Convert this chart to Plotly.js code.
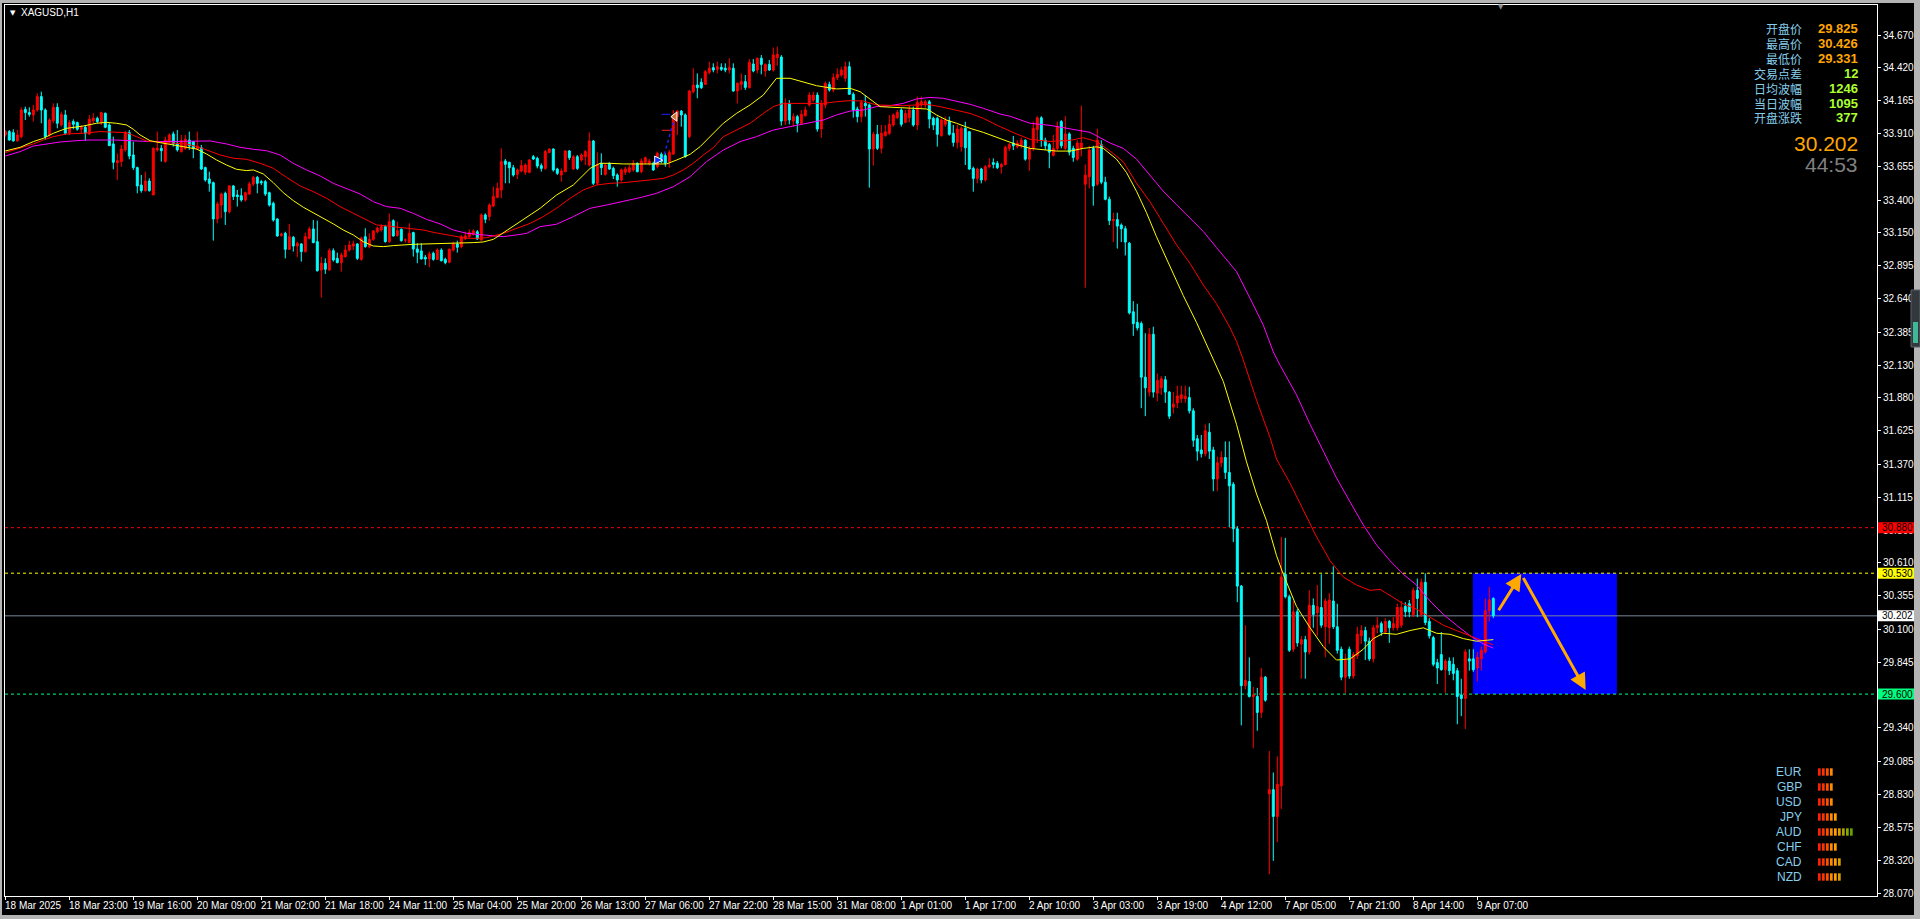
<!DOCTYPE html>
<html><head><meta charset="utf-8">
<script src="https://cdn.plot.ly/plotly-3.0.1.min.js"></script>
<style>html,body{margin:0;padding:0;background:#000;overflow:hidden}#chart{width:1920px;height:919px}</style>
</head><body><div id="chart"></div>
<script>
// ---------------- DATA ----------------
const symbolTitle = "XAGUSD,H1";

const open = [
33.901,33.927,33.919,33.855,33.888,34.098,34.073,34.055,34.093,34.196,
34.093,33.901,34.011,34.114,33.978,34.055,33.919,34.004,33.996,33.945,
33.960,33.909,34.011,34.029,33.996,34.068,33.978,33.832,33.688,33.696,
33.786,33.919,33.747,33.650,33.516,33.473,33.547,33.439,33.786,33.798,
33.696,33.850,33.909,33.837,33.773,33.798,33.862,33.850,33.791,33.803,
33.650,33.562,33.534,33.255,33.362,33.452,33.311,33.509,33.439,33.434,
33.401,33.447,33.524,33.575,33.542,33.542,33.457,33.375,33.255,33.127,
33.145,33.021,33.114,33.047,33.063,33.004,33.106,33.178,33.080,32.862,
32.914,32.862,33.011,32.952,32.919,32.965,33.016,33.047,33.063,32.944,
33.119,33.042,33.098,33.157,33.170,33.196,33.080,33.242,33.127,33.175,
33.093,33.073,33.150,33.024,33.009,32.960,32.947,32.991,32.944,33.016,
32.944,32.921,33.016,33.063,33.042,33.106,33.119,33.137,33.157,33.093,
33.286,33.273,33.355,33.421,33.478,33.701,33.690,33.649,33.598,33.624,
33.614,33.614,33.734,33.721,33.665,33.644,33.767,33.793,33.639,33.593,
33.619,33.778,33.639,33.734,33.708,33.734,33.670,33.855,33.529,33.683,
33.598,33.683,33.644,33.593,33.555,33.614,33.619,33.632,33.683,33.619,
33.690,33.683,33.683,33.657,33.752,33.742,33.696,33.755,34.042,34.085,
34.055,33.888,34.234,34.285,34.306,34.290,34.383,34.419,34.406,34.421,
34.414,34.401,34.414,34.239,34.290,34.311,34.265,34.447,34.401,34.491,
34.393,34.444,34.401,34.496,34.501,34.008,34.144,34.008,34.042,33.991,
34.050,34.132,34.170,34.208,33.947,34.132,34.290,34.247,34.342,34.362,
34.337,34.426,34.214,34.101,34.042,34.144,34.132,33.793,33.906,33.798,
33.896,33.914,33.978,34.034,34.093,33.998,34.034,34.093,33.978,34.132,
34.132,34.157,34.029,34.029,33.896,33.983,34.008,33.914,33.844,33.811,
33.952,33.926,33.644,33.567,33.639,33.555,33.657,33.688,33.683,33.654,
33.674,33.798,33.839,33.810,33.818,33.860,33.715,33.798,33.942,34.033,
33.860,33.827,33.744,33.798,34.004,33.798,33.909,33.798,33.715,33.798,
33.522,33.579,33.798,33.522,33.827,33.538,33.406,33.242,33.250,33.208,
33.180,33.068,32.541,32.459,32.450,32.038,31.923,32.368,31.915,31.956,
32.018,31.923,31.807,31.840,31.873,31.873,31.881,31.779,31.564,31.478,
31.449,31.614,31.478,31.255,31.379,31.420,31.305,31.214,30.872,30.431,
29.665,29.697,29.582,29.582,29.459,29.730,28.832,28.865,28.659,28.894,
30.522,30.349,29.945,30.233,29.986,30.019,29.924,30.283,30.225,30.266,
30.118,30.110,30.316,30.118,29.945,29.730,29.945,29.739,29.895,30.048,
30.089,30.007,29.871,30.110,30.142,30.077,30.159,30.110,30.110,30.130,
30.274,30.295,30.213,30.398,30.213,30.460,30.159,30.035,29.842,29.904,
29.788,29.854,29.829,29.780,29.594,29.566,29.871,29.871,29.801,29.871,
29.924,30.241,30.336];

const high = [
33.939,33.939,33.945,33.939,34.114,34.119,34.114,34.132,34.222,34.234,
34.106,34.029,34.145,34.145,34.080,34.093,34.016,34.021,34.004,33.978,
33.978,34.055,34.068,34.042,34.080,34.073,33.991,33.888,33.760,33.824,
33.932,33.939,33.850,33.657,33.593,33.619,33.568,33.806,33.927,33.824,
33.888,33.914,33.927,33.939,33.901,33.901,33.927,33.855,33.927,33.824,
33.657,33.619,33.542,33.388,33.457,33.465,33.516,33.516,33.478,33.491,
33.465,33.542,33.586,33.586,33.555,33.555,33.465,33.388,33.260,33.150,
33.157,33.217,33.124,33.080,33.068,33.150,33.196,33.247,33.242,32.965,
32.952,33.029,33.029,32.996,32.996,33.055,33.088,33.088,33.068,33.119,
33.183,33.145,33.170,33.196,33.214,33.209,33.298,33.252,33.234,33.183,
33.106,33.222,33.157,33.068,33.068,32.978,33.004,33.004,33.029,33.029,
32.957,33.029,33.080,33.088,33.132,33.157,33.175,33.175,33.170,33.298,
33.298,33.375,33.504,33.534,33.798,33.716,33.696,33.670,33.644,33.708,
33.683,33.716,33.747,33.734,33.683,33.785,33.798,33.798,33.649,33.644,
33.785,33.785,33.747,33.747,33.760,33.785,33.921,33.862,33.767,33.760,
33.683,33.690,33.657,33.606,33.644,33.657,33.670,33.708,33.690,33.721,
33.734,33.716,33.696,33.773,33.767,33.760,33.785,34.093,34.093,34.093,
34.067,34.247,34.414,34.375,34.337,34.401,34.465,34.452,34.465,34.452,
34.452,34.491,34.452,34.306,34.375,34.362,34.485,34.485,34.496,34.516,
34.452,34.478,34.573,34.580,34.516,34.183,34.170,34.067,34.055,34.093,
34.119,34.229,34.234,34.229,34.170,34.311,34.311,34.375,34.414,34.426,
34.465,34.465,34.229,34.119,34.170,34.208,34.144,33.926,33.978,33.978,
33.978,34.055,34.067,34.093,34.106,34.093,34.132,34.119,34.196,34.196,
34.170,34.170,34.042,34.042,34.029,34.042,34.042,33.978,33.978,33.965,
34.003,33.932,33.657,33.649,33.649,33.670,33.721,33.721,33.701,33.687,
33.818,33.839,33.893,33.860,33.880,33.868,33.818,34.004,34.045,34.045,
33.880,33.839,33.901,34.004,34.016,34.045,33.921,33.818,33.860,34.127,
33.674,33.818,33.818,33.950,33.860,33.579,33.427,33.303,33.303,33.221,
33.200,33.077,32.623,32.603,32.467,32.376,32.417,32.426,32.067,32.046,
32.046,31.931,31.923,31.972,31.972,31.972,31.964,31.799,31.593,31.593,
31.675,31.684,31.502,31.428,31.469,31.544,31.544,31.231,30.893,30.439,
30.130,29.883,29.656,29.648,29.801,29.739,29.162,28.997,29.121,30.810,
30.802,30.365,30.316,30.254,30.048,30.048,30.398,30.336,30.439,30.522,
30.336,30.377,30.583,30.295,29.965,29.912,29.965,29.924,30.118,30.130,
30.118,30.035,30.130,30.192,30.159,30.184,30.171,30.192,30.295,30.316,
30.307,30.324,30.419,30.489,30.489,30.530,30.184,30.048,29.871,30.077,
29.871,29.883,29.883,29.801,29.718,29.945,29.945,29.945,29.924,29.965,
30.336,30.426,30.345];

const low = [
33.888,33.857,33.850,33.850,33.875,34.016,34.042,34.004,34.080,33.991,
33.862,33.888,33.991,33.952,33.965,33.901,33.901,33.945,33.934,33.914,
33.855,33.901,33.991,33.991,33.978,33.952,33.816,33.637,33.555,33.657,
33.773,33.714,33.632,33.452,33.457,33.465,33.465,33.439,33.773,33.696,
33.688,33.832,33.811,33.773,33.765,33.786,33.786,33.722,33.786,33.632,
33.542,33.465,33.088,33.222,33.260,33.209,33.298,33.401,33.350,33.388,
33.388,33.439,33.509,33.452,33.516,33.432,33.350,33.234,33.119,33.119,
32.952,33.016,33.004,32.960,32.927,32.996,33.098,33.068,32.850,32.650,
32.832,32.857,32.927,32.914,32.850,32.957,33.004,33.016,32.939,32.934,
33.034,33.029,33.088,33.145,33.157,33.073,33.073,33.119,33.119,33.080,
33.073,33.068,32.965,32.914,32.944,32.901,32.883,32.934,32.939,32.927,
32.906,32.914,33.004,32.996,33.029,33.093,33.111,33.127,33.093,33.088,
33.222,33.242,33.345,33.414,33.414,33.529,33.529,33.580,33.562,33.614,
33.593,33.606,33.708,33.644,33.619,33.632,33.760,33.619,33.593,33.542,
33.614,33.708,33.632,33.632,33.696,33.670,33.657,33.516,33.516,33.593,
33.588,33.632,33.562,33.503,33.542,33.593,33.606,33.619,33.614,33.606,
33.675,33.665,33.624,33.644,33.683,33.657,33.649,33.747,33.901,33.965,
33.726,33.875,34.221,34.183,34.255,34.285,34.367,34.383,34.375,34.393,
34.383,34.375,34.234,34.144,34.247,34.247,34.260,34.383,34.375,34.367,
34.349,34.393,34.388,34.434,33.973,33.978,33.983,33.965,33.921,33.983,
34.042,34.119,34.157,33.926,33.880,34.106,34.234,34.229,34.324,34.349,
34.311,34.208,34.034,33.998,33.998,34.042,33.496,33.665,33.785,33.760,
33.888,33.901,33.965,34.024,33.965,33.991,33.998,33.965,33.939,34.106,
34.111,33.952,33.939,33.811,33.888,33.965,33.896,33.811,33.798,33.773,
33.670,33.632,33.465,33.529,33.529,33.542,33.644,33.644,33.639,33.604,
33.666,33.777,33.785,33.798,33.798,33.703,33.625,33.777,33.839,33.810,
33.785,33.645,33.736,33.777,33.798,33.785,33.744,33.695,33.703,33.736,
32.726,33.489,33.357,33.509,33.522,33.398,33.208,33.077,33.027,33.077,
32.974,32.520,32.356,32.397,31.799,31.738,31.890,31.881,31.853,31.902,
31.840,31.717,31.758,31.799,31.840,31.840,31.758,31.502,31.395,31.420,
31.428,31.408,31.161,31.161,31.346,31.255,30.884,30.769,30.307,29.360,
29.636,29.574,29.183,29.318,29.417,29.541,28.214,28.317,28.461,28.717,
30.336,29.924,29.924,29.965,29.718,29.718,29.904,30.110,30.048,30.110,
29.883,29.986,30.101,29.912,29.706,29.607,29.718,29.718,29.871,29.986,
29.862,29.854,29.842,30.068,30.048,30.060,29.994,30.089,30.089,30.110,
30.192,30.192,30.192,30.192,30.192,30.130,30.027,29.813,29.677,29.780,
29.607,29.747,29.706,29.368,29.430,29.331,29.780,29.772,29.697,29.780,
29.912,30.159,30.184];

const close = [
33.927,33.862,33.855,33.901,34.093,34.073,34.060,34.093,34.196,34.093,
33.888,34.016,34.114,33.991,34.060,33.914,33.996,33.983,33.945,33.960,
33.914,34.021,34.029,34.004,34.073,33.960,33.819,33.691,33.704,33.793,
33.919,33.739,33.650,33.509,33.473,33.547,33.473,33.798,33.798,33.780,
33.862,33.901,33.832,33.786,33.857,33.868,33.816,33.798,33.816,33.639,
33.555,33.529,33.255,33.370,33.447,33.311,33.509,33.427,33.427,33.401,
33.457,33.524,33.575,33.529,33.534,33.447,33.362,33.247,33.124,33.140,
33.021,33.119,33.047,33.068,33.004,33.119,33.178,33.073,32.857,32.914,
32.868,33.011,32.939,32.919,32.978,33.016,33.055,33.063,32.952,33.106,
33.042,33.098,33.163,33.183,33.196,33.080,33.234,33.124,33.165,33.088,
33.093,33.145,33.024,32.998,32.947,32.947,32.986,32.944,33.016,32.934,
32.919,33.021,33.063,33.037,33.119,33.124,33.150,33.163,33.101,33.286,
33.252,33.362,33.427,33.491,33.696,33.675,33.649,33.593,33.632,33.665,
33.670,33.708,33.716,33.662,33.644,33.773,33.793,33.632,33.606,33.624,
33.778,33.726,33.734,33.644,33.747,33.773,33.855,33.529,33.675,33.649,
33.670,33.639,33.588,33.555,33.632,33.639,33.649,33.683,33.619,33.701,
33.726,33.701,33.632,33.760,33.696,33.683,33.767,34.034,34.085,34.055,
33.734,34.239,34.285,34.265,34.265,34.388,34.414,34.401,34.426,34.406,
34.401,34.419,34.239,34.298,34.311,34.267,34.460,34.393,34.491,34.444,
34.444,34.401,34.516,34.521,34.008,34.144,34.016,34.042,33.991,34.060,
34.093,34.208,34.208,33.947,34.144,34.298,34.247,34.342,34.367,34.401,
34.426,34.214,34.093,34.042,34.152,34.126,33.793,33.906,33.798,33.914,
33.926,33.983,34.055,34.075,33.983,34.067,34.093,33.978,34.152,34.157,
34.157,34.024,33.978,33.906,34.016,34.016,33.906,33.844,33.947,33.952,
33.803,33.639,33.567,33.639,33.555,33.657,33.670,33.675,33.649,33.674,
33.806,33.827,33.818,33.839,33.860,33.715,33.798,33.950,34.033,33.860,
33.818,33.769,33.798,33.963,33.818,33.909,33.769,33.728,33.839,33.839,
33.592,33.785,33.509,33.860,33.538,33.406,33.242,33.250,33.200,33.180,
33.077,32.533,32.450,32.417,32.038,31.956,32.368,31.923,32.013,32.026,
31.923,31.738,31.832,31.894,31.902,31.890,31.779,31.552,31.469,31.449,
31.626,31.469,31.255,31.379,31.420,31.305,31.202,30.872,30.431,29.665,
29.706,29.582,29.594,29.459,29.730,29.553,28.865,28.659,28.906,30.501,
30.349,29.937,30.233,29.994,30.019,29.924,30.283,30.213,30.274,30.130,
30.316,30.324,30.118,29.937,29.730,29.862,29.739,29.904,30.060,30.089,
30.007,29.871,30.110,30.130,30.077,30.159,30.110,30.142,30.266,30.266,
30.233,30.233,30.398,30.336,30.460,30.151,30.048,29.829,29.801,29.788,
29.854,29.780,29.759,29.582,29.566,29.924,29.854,29.788,29.883,29.937,
30.241,30.324,30.202];

// moving averages: [bar index, price]
const maFastIdx = [0,3.7,7,9.5,12,15.3,19.5,22.8,25.3,27.8,30.3,32,33.7,36.2,38.7,42,45.3,47.8,50.3,52.8,55.3,57.8,60.3,62,64.5,67,69.5,72,74.5,77,79.5,82,84.5,87,89.5,92,94.5,97,102,107,112,117,119.5,122,123.7,126.2,129.5,133.7,137.8,142,146.2,148.7,151.2,154.5,158.7,162.8,165.3,167.8,171.2,173.7,176.2,179.5,182.8,186.2,189.5,192.8,196.2,199.5,202.8,207.8,211.2,213.7,216.2,218.7,223.7,228.7,230.4,232.8,235.3,237.8,241.2,244.5,248.7,252.8,256.2,262.8,266.2,269.5,272.8,274.5,277.8,280.3,282.8,285.3,287.8,291.2,294.5,297.8,301.2,304.5,307.8,310.3,312.8,315.3,317.8,319.5,322.8,326.2,329.5,332.8,336.2,339.5,342,344.5,347.8,351.2,354.5,357.8,361.2,364.5,367.8,372];
const maFastVal = [33.778,33.806,33.850,33.875,33.914,33.952,33.970,33.991,33.998,33.991,33.978,33.945,33.901,33.857,33.842,33.824,33.806,33.793,33.755,33.709,33.670,33.637,33.627,33.632,33.601,33.534,33.457,33.396,33.345,33.304,33.260,33.217,33.170,33.132,33.080,33.047,33.042,33.050,33.060,33.063,33.065,33.073,33.078,33.098,33.132,33.183,33.247,33.337,33.439,33.516,33.644,33.683,33.683,33.678,33.678,33.675,33.678,33.708,33.752,33.811,33.888,33.991,34.067,34.132,34.208,34.337,34.337,34.311,34.280,34.255,34.260,34.234,34.178,34.119,34.111,34.106,34.101,34.055,34.016,33.991,33.952,33.921,33.875,33.827,33.798,33.777,33.777,33.798,33.810,33.798,33.715,33.612,33.468,33.303,33.118,32.891,32.665,32.459,32.232,32.005,31.675,31.387,31.140,30.934,30.666,30.522,30.274,30.110,29.965,29.862,29.871,29.945,30.027,30.068,30.060,30.089,30.110,30.068,30.060,30.027,30.007,30.019];

const maMidIdx = [0,3.7,7,9.5,12,15.3,19.5,23.7,27.8,30.3,32.8,35.3,38.7,42,45.3,48.7,51.2,53.7,57,60.3,63.7,67,70.3,73.7,77,80.3,83.7,87,90.3,92.8,95.3,98.7,102,104.5,107,110.3,112.8,115.3,117.8,120.3,124.5,127.8,131.2,134.5,137.8,141.2,144.5,147.8,151.2,154.5,157.8,161.2,164.5,167,169.5,172,174.5,177,179.5,182.8,186.2,189.5,192,194.5,201.2,204.5,207.8,211.2,214.5,217.8,224.5,230.4,233.7,237.8,241.2,244.5,248,252.8,256.2,261.2,266.2,269.5,272.8,276.2,279.5,282.8,286.2,289.5,292.8,296.2,299.5,302.8,306.2,307.8,309.5,312.8,316.2,317.8,321.2,324.5,327.8,331.2,334.5,337.8,341.2,343.7,346.2,349.5,352.8,356.2,359.5,362.8,366.2,369.5,372];
const maMidVal = [33.765,33.798,33.832,33.862,33.888,33.909,33.914,33.927,33.921,33.919,33.888,33.855,33.845,33.837,33.832,33.804,33.773,33.747,33.722,33.714,33.683,33.645,33.575,33.509,33.465,33.414,33.350,33.298,33.247,33.209,33.201,33.191,33.180,33.170,33.152,33.132,33.119,33.106,33.106,33.111,33.144,33.183,33.221,33.273,33.337,33.414,33.478,33.516,33.529,33.534,33.542,33.555,33.567,33.593,33.632,33.683,33.747,33.803,33.888,33.939,33.991,34.067,34.119,34.144,34.144,34.144,34.157,34.165,34.162,34.132,34.126,34.137,34.119,34.093,34.067,34.029,33.975,33.909,33.868,33.851,33.860,33.880,33.851,33.777,33.695,33.530,33.386,33.221,33.056,32.912,32.747,32.603,32.417,32.314,32.170,31.861,31.573,31.408,31.222,31.016,30.810,30.625,30.501,30.439,30.398,30.406,30.357,30.295,30.254,30.192,30.130,30.089,30.048,30.007,29.978];

const maSlowIdx = [0,3.7,7,10.3,13.7,17,20.3,27.8,32,36.2,44.5,51.2,55.3,58.7,62,65.3,68.7,72,75.3,78.7,82,85.3,88.7,92,95.3,98.7,102,105.3,108.7,112,115.3,118.7,121.2,124.5,127.8,130.3,133.7,137.8,142,146.2,150.3,154.5,158.7,162.8,167,171.2,175.3,179.5,183.7,187.8,192,196.2,200.3,204.5,207.8,211.2,214.5,217.8,221.2,224.5,227.8,231.2,234.5,237.8,241.2,244.5,248.7,251.2,256.2,261.2,266.2,271.2,276.2,279.5,282.8,286.2,289.5,292.8,296.2,299.5,302.8,306.2,307.8,311.2,314.5,317,318.7,322.8,326.2,329.5,332.8,336.2,339.5,342.8,346.2,349.5,352.8,356.2,359.5,362.8,366.2,369.5,372];
const maSlowVal = [33.739,33.773,33.816,33.832,33.847,33.855,33.862,33.862,33.857,33.850,33.852,33.855,33.832,33.806,33.791,33.780,33.747,33.683,33.632,33.586,33.529,33.491,33.447,33.388,33.350,33.337,33.298,33.252,33.217,33.170,33.145,33.134,33.128,33.119,33.132,33.144,33.196,33.214,33.273,33.337,33.362,33.388,33.419,33.452,33.503,33.580,33.696,33.785,33.850,33.888,33.939,33.965,33.991,34.016,34.055,34.085,34.093,34.119,34.126,34.144,34.178,34.190,34.183,34.162,34.137,34.106,34.062,34.045,33.991,33.975,33.950,33.921,33.839,33.798,33.715,33.592,33.468,33.365,33.262,33.159,33.035,32.912,32.850,32.644,32.438,32.232,32.129,31.902,31.675,31.469,31.263,31.078,30.901,30.748,30.625,30.522,30.439,30.316,30.213,30.130,30.048,29.986,29.953];

// x axis labels (one every 16 bars)
const xTickIdx = [0,16,32,48,64,80,96,112,128,144,160,176,192,208,224,240,256,272,288,304,320,336,352,368];
const xTickLabels = ["18 Mar 2025","18 Mar 23:00","19 Mar 16:00","20 Mar 09:00","21 Mar 02:00","21 Mar 18:00","24 Mar 11:00","25 Mar 04:00","25 Mar 20:00","26 Mar 13:00","27 Mar 06:00","27 Mar 22:00","28 Mar 15:00","31 Mar 08:00","1 Apr 01:00","1 Apr 17:00","2 Apr 10:00","3 Apr 03:00","3 Apr 19:00","4 Apr 12:00","7 Apr 05:00","7 Apr 21:00","8 Apr 14:00","9 Apr 07:00"];
const yTickVals = [34.670,34.420,34.165,33.910,33.655,33.400,33.150,32.895,32.640,32.385,32.130,31.880,31.625,31.370,31.115,30.860,30.610,30.355,30.100,29.845,29.590,29.340,29.085,28.830,28.575,28.320,28.070];

// horizontal levels
const levelPrices = [30.880, 30.530, 29.600];
const levelColors = ["#FF0000", "#FFFF00", "#00FF7F"];
const bidPrice = 30.202;

// projection zone and arrows
const zoneX = [366.9, 402.9];
const zoneY = [29.600, 30.530];
const arrowTailX = [373.1, 379.3];
const arrowTailY = [30.234, 30.505];
const arrowHeadX = [379.0, 395.1];
const arrowHeadY = [30.524, 29.632];

// trade history marks
const tradeX = [164.35, 167.4];
const tradeY = [33.708, 34.042];
const tpLevel = 34.060, slLevel = 33.937;

// info panel
const infoLabels = ["开盘价","最高价","最低价","交易点差","日均波幅","当日波幅","开盘涨跌"];
const infoValues = ["29.825","30.426","29.331","12","1246","1095","377"];
const bidText = "30.202";
const timerText = "44:53";

// currency strength meter
const currencies = ["EUR","GBP","USD","JPY","AUD","CHF","CAD","NZD"];
const strength = [4,4,4,5,9,5,6,6];

// ---------------- LAYOUT HELPERS ----------------
const W = 1920, H = 919;
const M = {l: 5, r: 43, t: 5, b: 23};
const PW = W - M.l - M.r, PH = H - M.t - M.b;
const fx = px => (px - M.l) / PW;
const fy = py => (H - M.b - py) / PH;
const xRange = [-0.075, 467.925];
const yRange = [28.0469, 34.9008];
const paperY = p => (p - yRange[0]) / (yRange[1] - yRange[0]);
const pxPerPrice = PH / (yRange[1] - yRange[0]);

const barIdx = close.map((_, i) => i);

const traces = [
  {type: 'candlestick', x: barIdx, open: open, high: high, low: low, close: close,
   increasing: {line: {color: '#FF0000', width: 1}, fillcolor: '#FF0000'},
   decreasing: {line: {color: '#00FFFF', width: 1}, fillcolor: '#00FFFF'},
   whiskerwidth: 0, hoverinfo: 'skip', showlegend: false},
  {type: 'scatter', mode: 'lines', x: maSlowIdx, y: maSlowVal, line: {color: '#FF00FF', width: 1}, hoverinfo: 'skip', showlegend: false},
  {type: 'scatter', mode: 'lines', x: maMidIdx, y: maMidVal, line: {color: '#FF0000', width: 1}, hoverinfo: 'skip', showlegend: false},
  {type: 'scatter', mode: 'lines', x: maFastIdx, y: maFastVal, line: {color: '#FFFF00', width: 1}, hoverinfo: 'skip', showlegend: false},
  {type: 'scatter', mode: 'lines', x: tradeX, y: tradeY, line: {color: '#2020FF', width: 1.5, dash: 'dot'}, hoverinfo: 'skip', showlegend: false},
  {type: 'scatter', mode: 'lines', x: [tradeX[0]-0.25, tradeX[0]+1.85], y: [tpLevel, tpLevel], line: {color: '#2020FF', width: 1}, hoverinfo: 'skip', showlegend: false},
  {type: 'scatter', mode: 'lines', x: [tradeX[0]-0.25, tradeX[0]+1.85], y: [slLevel, slLevel], line: {color: '#FF2020', width: 1}, hoverinfo: 'skip', showlegend: false},
  {type: 'scatter', mode: 'markers', x: [tradeX[0]], y: [tradeY[0]], marker: {symbol: 'arrow-right', size: 8, color: '#1030FF', line: {color: '#FFFFFF', width: 1}}, hoverinfo: 'skip', showlegend: false},
  {type: 'scatter', mode: 'markers', x: [tradeX[1]], y: [tradeY[1]], marker: {symbol: 'triangle-left', size: 8, color: '#C87830', line: {color: '#FFFFFF', width: 1}}, hoverinfo: 'skip', showlegend: false}
];

const shapes = [];
shapes.push({type: 'rect', xref: 'x', yref: 'y', x0: zoneX[0], x1: zoneX[1], y0: zoneY[0], y1: zoneY[1],
  fillcolor: '#0000FF', line: {width: 0}, layer: 'below'});
levelPrices.forEach((p, k) => {
  shapes.push({type: 'line', xref: 'x', yref: 'y', x0: xRange[0], x1: xRange[1], y0: p, y1: p,
    line: {color: levelColors[k], width: 1, dash: '3px,3px'}, layer: 'below'});
});
shapes.push({type: 'line', xref: 'x', yref: 'y', x0: xRange[0], x1: xRange[1], y0: bidPrice, y1: bidPrice,
  line: {color: '#778899', width: 1}, layer: 'below'});

const tagPrices = [levelPrices[0], levelPrices[1], bidPrice, levelPrices[2]];
const tagColors = [levelColors[0], levelColors[1], '#FFFFFF', levelColors[2]];
const halfTag = 5.5 / pxPerPrice;
tagPrices.forEach((p, k) => {
  shapes.push({type: 'rect', xref: 'paper', yref: 'paper', x0: fx(1878), x1: fx(1915),
    y0: paperY(p - halfTag), y1: paperY(p + halfTag), fillcolor: tagColors[k], line: {width: 0}, layer: 'above'});
});

const barColors = ['#FF1E00','#FF3200','#FF5000','#FF8C00','#FFA000','#D7A000','#AAA500','#8CA500','#64A000'];
currencies.forEach((c, r) => {
  const cy = 772 + 15 * r;
  for (let k = 0; k < strength[r]; k++) {
    const x0 = 1818 + 4 * k;
    shapes.push({type: 'rect', xref: 'paper', yref: 'paper', x0: fx(x0), x1: fx(x0 + 2.7),
      y0: fy(cy + 3.7), y1: fy(cy - 3.7), fillcolor: barColors[k], line: {width: 0}, layer: 'above'});
  }
});

const frameColor = '#B4B4B4';
shapes.push({type: 'rect', xref: 'paper', yref: 'paper', x0: fx(0), x1: fx(2), y0: fy(919), y1: fy(0), fillcolor: frameColor, line: {width: 0}});
shapes.push({type: 'rect', xref: 'paper', yref: 'paper', x0: fx(0), x1: fx(1920), y0: fy(3), y1: fy(0), fillcolor: frameColor, line: {width: 0}});
shapes.push({type: 'rect', xref: 'paper', yref: 'paper', x0: fx(1914), x1: fx(1920), y0: fy(919), y1: fy(0), fillcolor: frameColor, line: {width: 0}});
shapes.push({type: 'rect', xref: 'paper', yref: 'paper', x0: fx(0), x1: fx(1920), y0: fy(919), y1: fy(915), fillcolor: frameColor, line: {width: 0}});
shapes.push({type: 'rect', xref: 'paper', yref: 'paper', x0: fx(1911), x1: fx(1920), y0: fy(347), y1: fy(290), fillcolor: '#33383D', line: {color: '#5A6068', width: 1}});
shapes.push({type: 'rect', xref: 'paper', yref: 'paper', x0: fx(1913), x1: fx(1918), y0: fy(343), y1: fy(322), fillcolor: '#3FB89A', line: {width: 0}});

const annotations = [];
// x axis labels, left-aligned on their tick like the terminal does
xTickIdx.forEach((xi, k) => {
  annotations.push({xref: 'x', yref: 'paper', x: xi, y: fy(905), xanchor: 'left', yanchor: 'middle', xshift: -1,
    text: xTickLabels[k], showarrow: false, font: {family: 'Liberation Sans', size: 10, color: '#FFFFFF'}, borderpad: 0});
});
const tagFont = {family: 'Liberation Sans', size: 10, color: '#000000'};
tagPrices.forEach((p, k) => {
  annotations.push({xref: 'paper', yref: 'paper', x: fx(1881), y: paperY(p), xanchor: 'left', yanchor: 'middle',
    text: p.toFixed(3), showarrow: false, font: tagFont, borderpad: 0});
});
annotations.push({xref: 'paper', yref: 'paper', x: fx(8), y: fy(13), xanchor: 'left', yanchor: 'middle',
  text: '▼', showarrow: false, font: {family: 'DejaVu Sans', size: 7, color: '#FFFFFF'}});
annotations.push({xref: 'paper', yref: 'paper', x: fx(19), y: fy(13), xanchor: 'left', yanchor: 'middle',
  text: symbolTitle, showarrow: false, font: {family: 'Liberation Sans', size: 10, color: '#FFFFFF'}});
annotations.push({xref: 'paper', yref: 'paper', x: fx(1501), y: fy(7), xanchor: 'center', yanchor: 'middle',
  text: '▼', showarrow: false, font: {family: 'DejaVu Sans', size: 7, color: '#8C8C8C'}});
const rowY = [29, 43.8, 58.6, 73.4, 88.2, 103, 117.8];
infoLabels.forEach((t, k) => {
  annotations.push({xref: 'paper', yref: 'paper', x: fx(1803.5), y: fy(rowY[k]), xanchor: 'right', yanchor: 'middle',
    text: t, showarrow: false, font: {family: 'Noto Sans CJK SC', size: 12, color: '#87CEEB'}});
  annotations.push({xref: 'paper', yref: 'paper', x: fx(1860), y: fy(rowY[k]), xanchor: 'right', yanchor: 'middle',
    text: '<b>' + infoValues[k] + '</b>', showarrow: false,
    font: {family: 'Liberation Sans', size: 13, color: k < 3 ? '#FFA500' : '#ADFF2F'}});
});
annotations.push({xref: 'paper', yref: 'paper', x: fx(1860), y: fy(144), xanchor: 'right', yanchor: 'middle',
  text: bidText, showarrow: false, font: {family: 'Liberation Sans', size: 21, color: '#FFA500'}});
annotations.push({xref: 'paper', yref: 'paper', x: fx(1860), y: fy(164.5), xanchor: 'right', yanchor: 'middle',
  text: timerText, showarrow: false, font: {family: 'Liberation Sans', size: 21, color: '#808080'}});
currencies.forEach((c, r) => {
  annotations.push({xref: 'paper', yref: 'paper', x: fx(1803.5), y: fy(772 + 15 * r), xanchor: 'right', yanchor: 'middle',
    text: c, showarrow: false, font: {family: 'Liberation Sans', size: 12, color: '#87CEEB'}});
});
arrowHeadX.forEach((hx, k) => {
  annotations.push({x: hx, y: arrowHeadY[k], ax: arrowTailX[k], ay: arrowTailY[k], xref: 'x', yref: 'y', axref: 'x', ayref: 'y',
    text: '', showarrow: true, arrowhead: 2, arrowsize: 1.1, arrowwidth: 3, arrowcolor: '#FFA800', standoff: 0});
});

const layout = {
  width: W, height: H,
  margin: M,
  paper_bgcolor: '#000000', plot_bgcolor: '#000000',
  font: {family: 'Liberation Sans', size: 10, color: '#FFFFFF'},
  showlegend: false,
  dragmode: false,
  boxgap: 0.3, boxgroupgap: 0.3,
  xaxis: {
    type: 'linear', range: xRange, autorange: false,
    rangeslider: {visible: false},
    showgrid: false, zeroline: false,
    showline: true, linecolor: '#FFFFFF', linewidth: 1, mirror: true,
    ticks: 'outside', ticklen: 3, tickcolor: '#FFFFFF', tickwidth: 1,
    tickmode: 'array', tickvals: xTickIdx, showticklabels: false
  },
  yaxis: {
    side: 'right', range: yRange, autorange: false,
    showgrid: false, zeroline: false,
    showline: true, linecolor: '#FFFFFF', linewidth: 1, mirror: true,
    ticks: 'outside', ticklen: 3, tickcolor: '#FFFFFF', tickwidth: 1,
    tickmode: 'array', tickvals: yTickVals, ticktext: yTickVals.map(v => v.toFixed(3)),
    tickfont: {family: 'Liberation Sans', size: 10, color: '#FFFFFF'}
  },
  shapes: shapes,
  annotations: annotations
};

Plotly.newPlot('chart', traces, layout, {displayModeBar: false, staticPlot: true});
</script>
</body></html>
